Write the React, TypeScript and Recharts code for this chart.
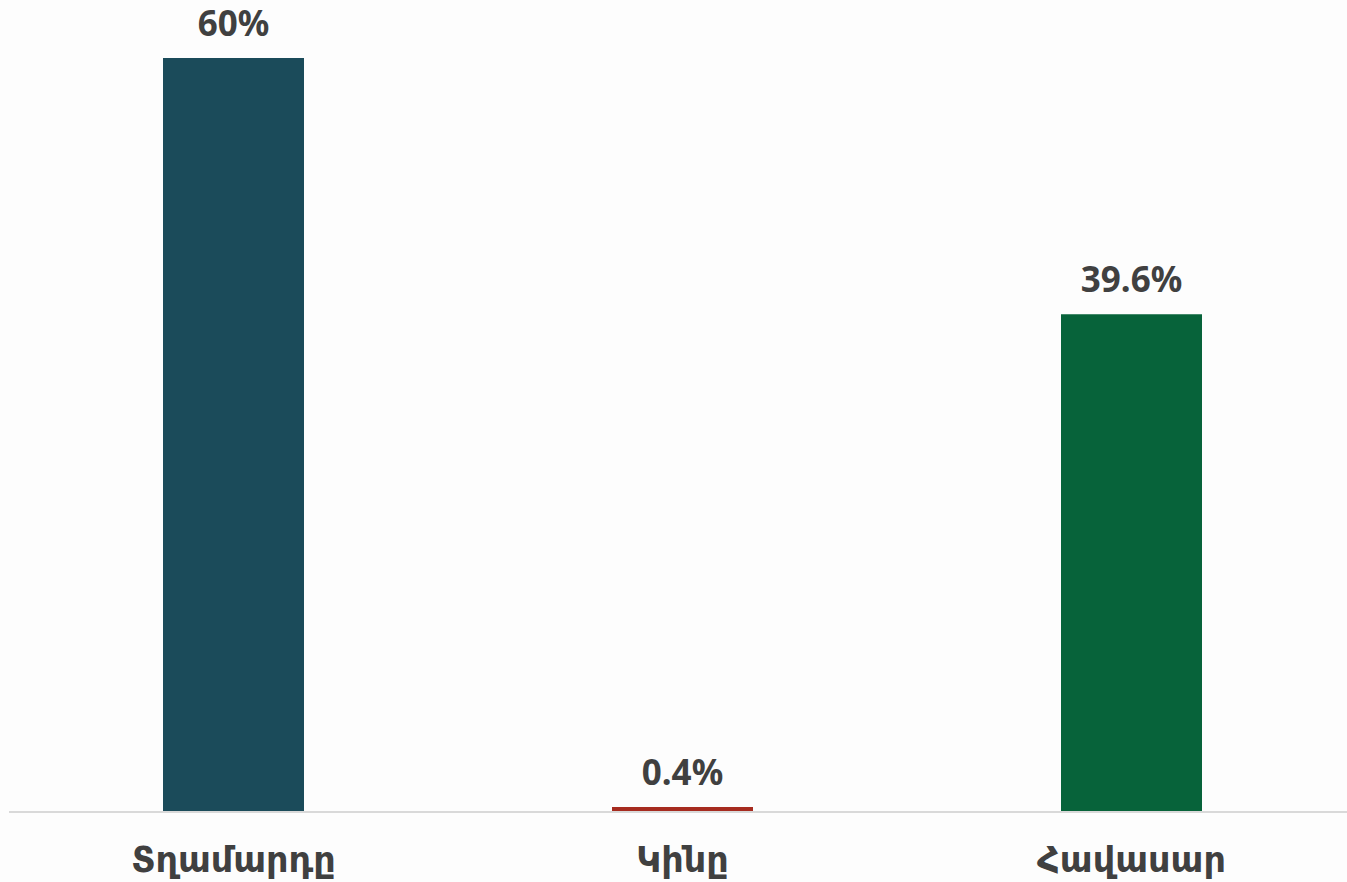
import { BarChart, Bar, XAxis, YAxis, Cell, LabelList } from "recharts";

const categories = ["Տղամարդը", "Կինը", "Հավասար"];
const shares = [60, 0.4, 39.6];
const barColors = ["#1B4B5A", "#A62B1F", "#07633A"];

const data = categories.map((name, i) => ({ name, value: shares[i] }));

const textColor = "#404040";
const font = "'Noto Sans', 'DejaVu Sans', sans-serif";

export default function App() {
  return (
    <div
      style={{
        position: "absolute",
        left: 0,
        top: 0,
        width: 1347,
        height: 882,
        overflow: "hidden",
        background: "#FDFDFD",
        fontFamily: font,
      }}
    >
      <BarChart
        width={1356}
        height={882}
        data={data}
        margin={{ top: 58, right: 0, left: 9, bottom: 0 }}
        barCategoryGap={0}
      >
        <XAxis
          dataKey="name"
          height={70}
          tickLine={false}
          axisLine={{ stroke: "#D9D9D9", strokeWidth: 2 }}
          tickMargin={29}
          tick={{ fill: textColor, fontSize: 35, fontWeight: 700, fontFamily: font }}
          interval={0}
        />
        <YAxis hide domain={[0, 60]} />
        <Bar dataKey="value" barSize={141} isAnimationActive={false}>
          {data.map((_, i) => (
            <Cell key={i} fill={barColors[i]} />
          ))}
          <LabelList
            dataKey="value"
            position="top"
            offset={22}
            formatter={(v: number) => `${v}%`}
            style={{ fill: textColor, fontSize: 35, fontWeight: 700, fontFamily: font }}
          />
        </Bar>
      </BarChart>
    </div>
  );
}
